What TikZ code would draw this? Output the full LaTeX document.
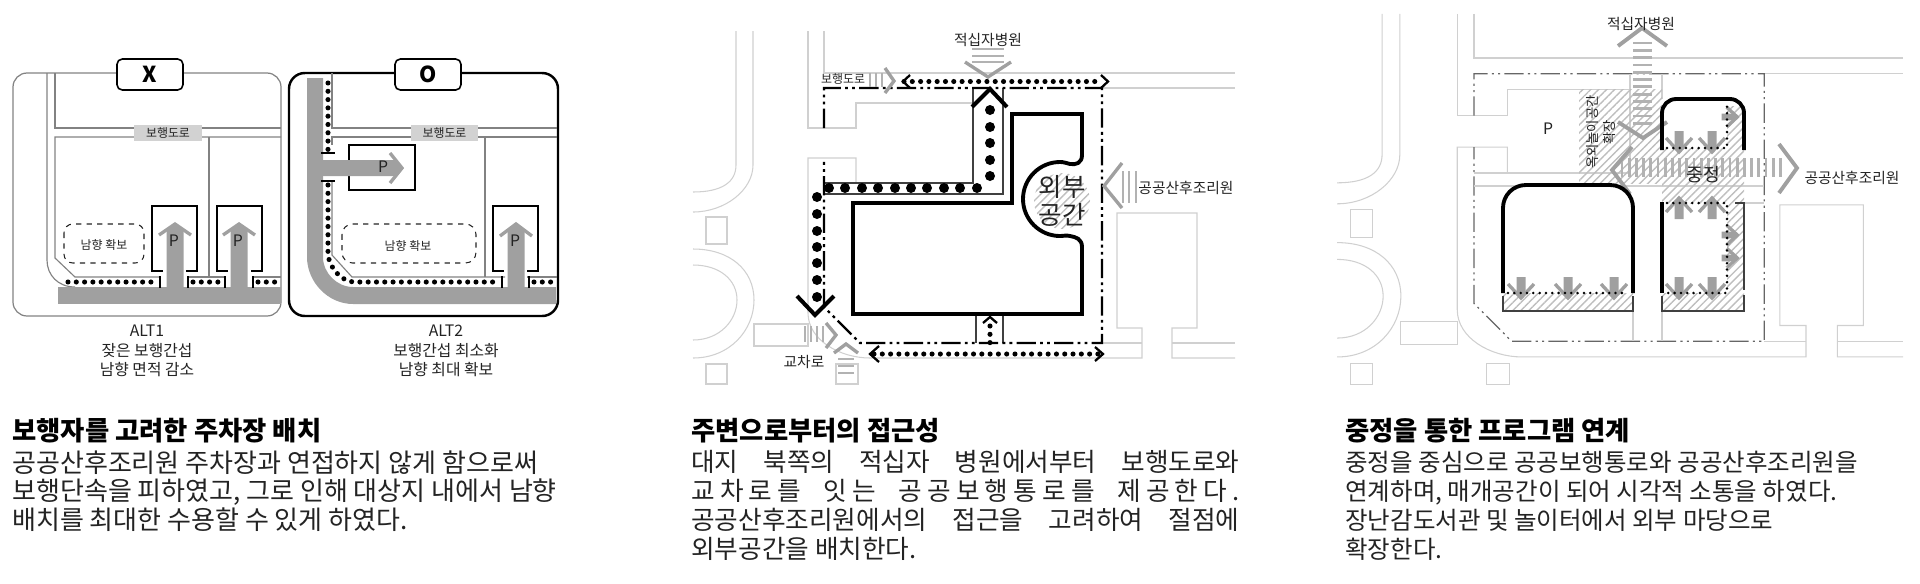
\documentclass[tikz,border=0pt]{standalone}
\usepackage{fontspec}
\setmainfont{Noto Sans CJK KR}
\usetikzlibrary{patterns.meta}
\definecolor{road}{RGB}{130,130,130}
\definecolor{maproad}{RGB}{208,208,208}
\definecolor{band}{RGB}{160,160,160}
\definecolor{stripe}{RGB}{178,178,178}
\definecolor{tagfill}{RGB}{210,210,210}
\definecolor{hatch}{RGB}{190,190,190}
\definecolor{ink}{RGB}{35,35,35}
\tikzset{
  thinroad/.style={draw=road, line width=0.65pt},
  mapline/.style={draw=maproad, line width=0.6pt},
  wall/.style={draw=black, line width=0.8pt},
  walldark/.style={draw=black!75, line width=0.8pt},
  heavy/.style={draw=black, line width=2.2pt},
  chevblack/.style={draw=black, line width=2.3pt},
  chevthin/.style={draw=black, line width=1.3pt},
  chevgray/.style={draw=band, line width=1.9pt},
  bars/.style={draw=stripe, line width=1.6pt},
  smalldots/.style={draw=black, line width=2.9pt, line cap=round, dash pattern=on 0pt off 4.72pt},
  finedots/.style={draw=black, line width=1.6pt, line cap=round, dash pattern=on 0pt off 3.6pt},
  sitebold/.style={draw=black, line width=1.25pt, dash pattern=on 11pt off 2.4pt on 1.6pt off 2.4pt on 1.6pt off 2.4pt},
  sitethin/.style={draw=black!60, line width=0.7pt, dash pattern=on 11pt off 2.4pt on 1.2pt off 2.4pt on 1.2pt off 2.4pt},
  hatched/.style={pattern={Lines[angle=45,distance=3.2pt,line width=0.8pt]}, pattern color=hatch},
  tag/.style={draw=black, fill=white, line width=0.9pt, rounded corners=3pt, minimum width=1.32cm, minimum height=0.62cm, inner sep=0pt, font=\fontsize{12.5}{13}\selectfont\bfseries},
  roadtag/.style={fill=tagfill, minimum width=1.36cm, minimum height=0.32cm, inner sep=0pt, text=ink, font=\fontsize{6.8}{7}\selectfont},
  small/.style={inner sep=0pt, text=ink, font=\fontsize{6.8}{7}\selectfont},
  label/.style={inner sep=0pt, text=ink, font=\fontsize{8.4}{9}\selectfont},
  caption/.style={inner sep=0pt, text=ink, align=center, font=\fontsize{9}{11}\selectfont},
  title/.style={inner sep=0pt, anchor=west, text=black, font=\fontsize{15}{16}\selectfont\bfseries},
  body/.style={inner sep=0pt, anchor=north west, text=ink, align=left},
  gaparrow/.pic={
    \fill[band] (-4.5,22) -- (-4.5,7) -- (0,2) -- (4.5,7) -- (4.5,22) -- cycle;
    \draw[chevgray] (-13,15) -- (0,1) -- (13,15);
  }
}
\newcommand{\fitline}[1]{\makebox[312pt][s]{#1}}
\newcommand{\sitepath}{(824,128) -- (824,88) -- (1102,88) -- (1102,343) -- (860,343) -- (824,307) -- (824,158)}
\newcommand{\basemap}{
  \draw[mapline] (736,31) -- (736,165) .. controls (736,182) and (722,192) .. (693,192);
  \draw[mapline] (753,31) -- (753,165) .. controls (753,190) and (725,212) .. (693,212);
  \draw[mapline] (706,217) rectangle (727,244);
  \draw[mapline] (693,249) .. controls (730,249) and (754,270) .. (754,300) .. controls (754,330) and (730,358) .. (693,358);
  \draw[mapline] (693,265) .. controls (720,265) and (737,280) .. (737,300) .. controls (737,320) and (720,340) .. (693,340);
  \draw[mapline] (706,364) rectangle (727,384);
  \draw[mapline] (754,324) rectangle (808,346);
  \draw[mapline] (836,364) rectangle (858,384);
  \draw[mapline] (808,31) -- (808,128) -- (856,128) -- (856,103) -- (973,103);
  \draw[mapline] (824,31) -- (824,73) -- (1235,73);
  \draw[mapline] (1102,88) -- (1235,88);
  \draw[mapline] (856,183) -- (856,158) -- (808,158) -- (808,313) .. controls (808,340) and (840,358) .. (870,358) -- (1142,358) -- (1142,328) -- (1117,328) -- (1117,213) -- (1197,213) -- (1197,328) -- (1172,328) -- (1172,358) -- (1235,358);
  \draw[mapline] (1102,343) -- (1142,343);
  \draw[mapline] (1172,343) -- (1235,343);
}
\begin{document}
\begin{tikzpicture}[x=0.02cm, y=-0.02cm]
\useasboundingbox (0,0) rectangle (1920,583);
% alt 1
\draw[draw=road, line width=0.7pt, rounded corners=8pt] (13,73) rectangle (281,316);
\draw[thinroad] (47,73) -- (47,260) .. controls (47,275) and (58,287) .. (75,287);
\draw[thinroad] (55,73) -- (55,128) -- (281,128);
\draw[thinroad] (281,137) -- (55,137) -- (55,258) -- (75,277) -- (160,277);
\draw[thinroad] (188,277) -- (225,277);
\draw[thinroad] (253,277) -- (281,277);
\draw[thinroad] (209,137) -- (209,277);
\fill[band] (58,287) rectangle (281,304);
\draw[smalldots] (68,282) -- (155,282);
\draw[smalldots] (193,282) -- (222,282);
\draw[smalldots] (258,282) -- (279,282);
\draw[wall] (163,271) -- (152,271) -- (152,206) -- (197,206) -- (197,271) -- (186,271);
\draw[wall] (228,271) -- (217,271) -- (217,206) -- (262,206) -- (262,271) -- (251,271);
\foreach \cx in {175,239}{
  \fill[band] (\cx-8.5,288) -- (\cx-8.5,231) -- (\cx,224) -- (\cx+8.5,231) -- (\cx+8.5,288) -- cycle;
  \draw[chevgray] (\cx-16,235) -- (\cx,224) -- (\cx+16,235);
}
\foreach \tx in {160,188,225,253}{
  \draw[wall] (\tx,276) -- (\tx,288);
}
\draw[draw=ink, line width=0.6pt, dashed, rounded corners=5pt] (64,224) rectangle (144,263);
\node[small] (southa) at (104,245) {남향 확보};
\node[small, font=\fontsize{9}{9}\selectfont] (parka) at (174,241) {P};
\node[small, font=\fontsize{9}{9}\selectfont] (parkb) at (238,241) {P};
\node[roadtag] (roada) at (168,133) {보행도로};
\node[tag] (tagx) at (150,74.5) {X};
\node[caption] (capa) at (147,351) {ALT1\\잦은 보행간섭\\남향 면적 감소};
% alt 2
\draw[draw=black, line width=1.4pt, rounded corners=9pt] (289,73) rectangle (558,316);
\draw[thinroad] (332,73) -- (332,128) -- (557,128);
\draw[thinroad] (557,137) -- (332,137) -- (332,145);
\draw[thinroad] (332,180) -- (332,255) -- (352,277) -- (505,277);
\draw[thinroad] (527,277) -- (557,277);
\draw[thinroad] (485,137) -- (485,277);
\fill[band] (307,78) -- (307,257) .. controls (307,282) and (328,304) .. (353,304) -- (556,304) -- (556,287) -- (353,287) .. controls (337,287) and (323,273) .. (323,257) -- (323,78) -- cycle;
\draw[smalldots] (328,83) -- (328,153);
\draw[smalldots] (328,185) -- (328,255) .. controls (330,268) and (340,280) .. (353,282) -- (499,282);
\draw[smalldots] (534,282) -- (556,282);
\draw[wall] (349,160) -- (349,145) -- (415,145) -- (415,190) -- (349,190) -- (349,176);
\draw[wall] (504,271) -- (493,271) -- (493,206) -- (538,206) -- (538,271) -- (527,271);
\fill[band] (323,160) -- (394,160) -- (402,168) -- (394,176) -- (323,176) -- cycle;
\draw[chevgray] (390,153) -- (402,168) -- (390,183);
\fill[band] (507.5,288) -- (507.5,231) -- (516,224) -- (524.5,231) -- (524.5,288) -- cycle;
\draw[chevgray] (500,236) -- (516,224) -- (532,236);
\draw[wall] (321,153) -- (335,153);
\draw[wall] (321,181) -- (335,181);
\draw[wall] (502,276) -- (502,288);
\draw[wall] (529,276) -- (529,288);
\draw[draw=ink, line width=0.6pt, dashed, rounded corners=6pt] (342,224) rectangle (476,263);
\node[small] (southb) at (408,246) {남향 확보};
\node[small, font=\fontsize{9}{9}\selectfont] (parkc) at (383,167) {P};
\node[small, font=\fontsize{9}{9}\selectfont] (parkd) at (515,241) {P};
\node[roadtag] (roadb) at (444.5,133) {보행도로};
\node[tag] (tago) at (428,74.5) {O};
\node[caption] (capb) at (446,351) {ALT2\\보행간섭 최소화\\남향 최대 확보};
% access plan
\basemap
\fill[hatched] (1062,201) circle (28);
\draw[walldark] (824,183) -- (973,183) -- (973,88);
\draw[walldark] (824,194) -- (1003,194) -- (1003,88);
\draw[walldark] (976,314) -- (976,343);
\draw[walldark] (1003,314) -- (1003,343);
\draw[sitebold] \sitepath;
\draw[heavy] (1012,114) -- (1082,114) -- (1082,155) .. controls (1082,163) and (1076,165) .. (1070,164) .. controls (1066,163) and (1064,162) .. (1060,162) .. controls (1039.6,162) and (1023,178.6) .. (1023,199) .. controls (1023,219.4) and (1039.6,236) .. (1060,236) .. controls (1064,236) and (1066,235) .. (1070,236) .. controls (1076,237) and (1082,239) .. (1082,247) -- (1082,314) -- (853,314) -- (853,203) -- (1012,203) -- cycle;
\foreach \dx in {829,845,862,878,895,911,927,944,960,977}{
  \fill (\dx,188) circle (5);
}
\foreach \dy in {110,127,143,160,176}{
  \fill (990,\dy) circle (5);
}
\foreach \dy in {197,214,231,247,263,280,297}{
  \fill (817,\dy) circle (5);
}
\draw[chevblack] (972,107) -- (990,89) -- (1007,107);
\draw[chevblack] (797,296) -- (815,315) -- (834,296);
\draw[smalldots] (904,81.5) -- (1100,81.5);
\draw[smalldots] (874,354) -- (1098,354);
\draw[smalldots] (990,326) -- (990,350);
\draw[chevthin] (910,75) -- (903,81.5) -- (910,88);
\draw[chevthin] (1101,75) -- (1108,81.5) -- (1101,88);
\draw[chevthin] (879,346) -- (870,354) -- (879,362);
\draw[chevthin] (1095,347) -- (1103,354) -- (1095,361);
\draw[chevthin] (983,323) -- (990,317) -- (997,323);
% stripes
\foreach \by in {49,56,62}{
  \draw[bars] (972,\by) -- (1004,\by);
}
\draw[chevgray] (965,62) -- (988,77) -- (1011,62);
\foreach \bx in {870,876,882}{
  \draw[bars] (\bx,73) -- (\bx,87);
}
\draw[chevgray] (885,68) -- (894,81) -- (885,93);
\foreach \bx in {1123,1129,1136}{
  \draw[bars] (\bx,171) -- (\bx,203);
}
\draw[chevgray] (1122,163) -- (1104,186) -- (1122,208);
\foreach \bx in {805,811,817,823}{
  \draw[bars] (\bx,326) -- (\bx,342);
}
\draw[chevgray] (826,323) -- (836,335) -- (826,348);
\foreach \by in {359,366,373}{
  \draw[bars] (838,\by) -- (854,\by);
}
\draw[chevgray] (834,353) -- (846,344) -- (858,353);
\node[label] (hospa) at (988,40) {적십자병원};
\node[small] (walka) at (843,79) {보행도로};
\node[label] (carea) at (1186,188) {공공산후조리원};
\node[label] (crossa) at (804,362) {교차로};
\node[inner sep=0pt, text=ink, align=center, font=\fontsize{14.5}{15.5}\selectfont] (outer) at (1062,201) {외부\\공간};
% courtyard plan
\begin{scope}[shift={(613.7,-18.6)}, xscale=1.044, yscale=1.049]
\basemap
\draw[sitethin] \sitepath;
\end{scope}
\draw[mapline] (1474,173) -- (1630,173) -- (1630,74);
\draw[mapline] (1662,74) -- (1662,99);
\draw[mapline] (1474,186) -- (1764,186);
\draw[mapline] (1744,203) -- (1764,203);
\draw[mapline] (1633,311) -- (1633,341);
\draw[mapline] (1662,311) -- (1662,341);
\fill[hatched] (1579,89) rectangle (1662,183);
\fill[hatched] (1662,106) rectangle (1744,311);
\fill[hatched] (1503,293) rectangle (1633,311);
\fill[white] (1662,99) rectangle (1727,148);
\fill[white] (1662,204) rectangle (1727,293);
\draw[walldark] (1503,296) -- (1503,311) -- (1633,311) -- (1633,296);
\draw[walldark] (1662,296) -- (1662,311) -- (1744,311) -- (1744,295);
\draw[walldark] (1735,203) -- (1744,203) -- (1744,290);
\foreach \by in {43,50.3,...,124}{
  \draw[bars] (1633,\by) -- (1652,\by);
}
\foreach \bx in {1622,1629.2,...,1781}{
  \draw[bars] (\bx,158) -- (\bx,177);
}
\draw[chevgray, line width=2.2pt] (1618,46) -- (1642,28) -- (1667,46);
\draw[chevgray, line width=2.2pt] (1618,122) -- (1643,138) -- (1667,122);
\draw[chevgray, line width=2.2pt] (1779,144) -- (1797,168) -- (1779,193);
\draw[chevgray, line width=2.2pt] (1632,147) -- (1612,170) -- (1630,194);
\foreach \ax in {1521,1568,1614}{
  \pic[rotate=180] at (\ax,299) {gaparrow};
}
\foreach \ax in {1679,1712}{
  \pic[rotate=180] at (\ax,153) {gaparrow};
  \pic at (\ax,197) {gaparrow};
  \pic[rotate=180] at (\ax,299) {gaparrow};
}
\foreach \ay in {117,235,258}{
  \pic[rotate=-90, scale=0.75] at (1738,\ay) {gaparrow};
}
\draw[heavy, rounded corners=13pt] (1503,293) -- (1503,185) -- (1633,185) -- (1633,293);
\draw[heavy, rounded corners=8pt] (1662,150) -- (1662,99) -- (1744,99) -- (1744,150);
\draw[heavy] (1662,202) -- (1662,293);
\draw[finedots] (1508,293) -- (1628,293);
\draw[finedots] (1667,148) -- (1727,148) -- (1727,106);
\draw[finedots] (1667,203) -- (1727,203) -- (1727,293) -- (1667,293);
\node[small, font=\fontsize{9}{9}\selectfont] (parke) at (1548,129) {P};
\node[inner sep=0pt, text=ink, align=center, rotate=90, font=\fontsize{7.6}{9.6}\selectfont] (yard) at (1601,132) {옥외놀이공간\\확장};
\node[label] (hospb) at (1641,24) {적십자병원};
\node[label] (careb) at (1852,178) {공공산후조리원};
\node[inner sep=0pt, text=ink, font=\fontsize{10.4}{11}\selectfont] (court) at (1703,175) {중정};
% texts
\node[title] (titlea) at (12,431) {보행자를 고려한 주차장 배치};
\node[body, font=\fontsize{14.8}{16.4}\selectfont] (bodya) at (12,450) {공공산후조리원 주차장과 연접하지 않게 함으로써\\보행단속을 피하였고, 그로 인해 대상지 내에서 남향\\배치를 최대한 수용할 수 있게 하였다.};
\node[title] (titleb) at (691,431) {주변으로부터의 접근성};
\node[body, font=\fontsize{14.6}{16.4}\selectfont] (bodyb) at (691,450) {\fitline{대지 북쪽의 적십자 병원에서부터 보행도로와}\\\fitline{\addfontfeature{LetterSpace=20}교차로를 잇는 공공보행통로를 제공한다.}\\\fitline{공공산후조리원에서의 접근을 고려하여 절점에}\\외부공간을 배치한다.};
\node[title] (titlec) at (1345,431) {중정을 통한 프로그램 연계};
\node[body, font=\fontsize{13.95}{16.4}\selectfont] (bodyc) at (1345,451) {중정을 중심으로 공공보행통로와 공공산후조리원을\\연계하며, 매개공간이 되어 시각적 소통을 하였다.\\장난감도서관 및 놀이터에서 외부 마당으로\\확장한다.};
\end{tikzpicture}
\end{document}
